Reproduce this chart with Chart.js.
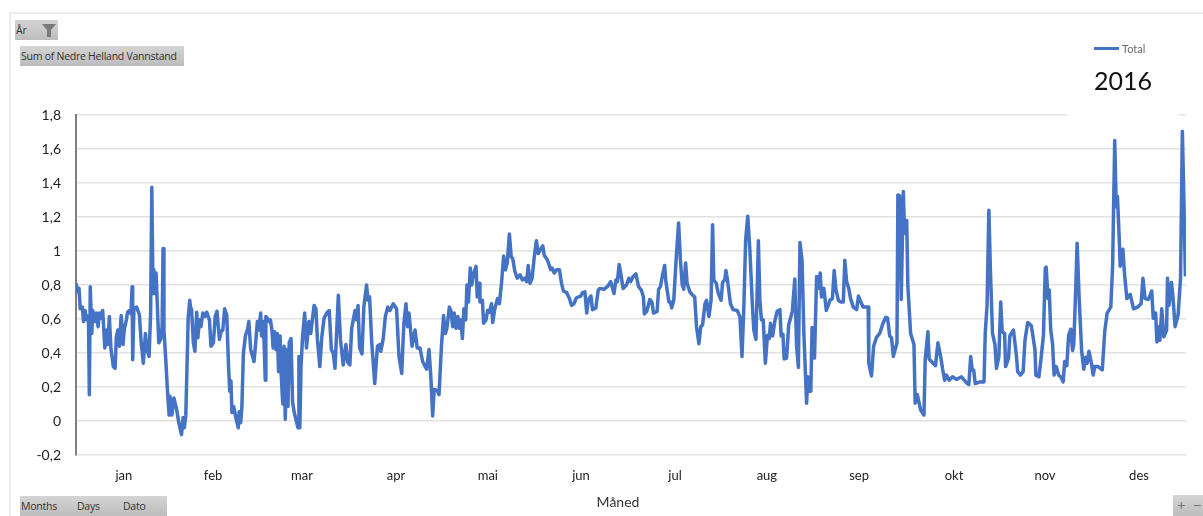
<!DOCTYPE html>
<html lang="no">
<head>
<meta charset="utf-8">
<title>Nedre Helland Vannstand 2016</title>
<script src="https://cdn.jsdelivr.net/npm/chart.js@4"></script>
<style>
    html, body { margin: 0; padding: 0; background: #fff; overflow: hidden; }
    #wrap { position: relative; width: 1203px; height: 516px; overflow: hidden; }
    #chart { position: absolute; left: 0; top: 0; }
    .frame-top { position: absolute; left: 10px; top: 12px; width: 1193px; height: 2px; background: #ececec; }
    .frame-left { position: absolute; left: 9px; top: 12px; width: 2px; height: 504px; background: #ececec; }
    .btn {
        position: absolute; background: linear-gradient(#d4d4d4, #bdbdbd); color: #333;
        font: 10.5px "Open Sans", sans-serif; letter-spacing: -0.25px; line-height: 20px; white-space: nowrap; box-sizing: border-box;
    }
    .legend { position: absolute; left: 1094px; top: 41px; height: 14px; }
    .legend i { position: absolute; left: 0; top: 6px; width: 25px; height: 3px; background: #4472c4; }
    .legend span { position: absolute; left: 28px; top: 0; font: 11px Lato, sans-serif; color: #6a6a6a; line-height: 15px; }
    .year {
        position: absolute; left: 1067px; top: 62px; width: 112px; height: 56px; background: #fff;
        font: 25px Lato, sans-serif; color: #111; text-align: center; line-height: 36px;
    }
    .axis-title { position: absolute; left: 578px; top: 492px; width: 80px; text-align: center; font: 14px Lato, sans-serif; color: #333; line-height: 20px; }
</style>
</head>
<body>
<div id="wrap">
    <canvas id="chart" width="1203" height="516"></canvas>
    <div class="frame-top"></div>
    <div class="frame-left"></div>

    <div class="btn" style="left:15px;top:20px;width:43px;height:20px;padding-left:1px">År
        <svg width="14" height="13" style="position:absolute;left:27px;top:4px"><polygon points="0,0 14,0 9,6 9,13 5,13 5,6" fill="#7a7a7a"/></svg>
    </div>
    <div class="btn" style="left:20px;top:46px;width:164px;height:20px;padding-left:1px">Sum of Nedre Helland Vannstand</div>
    <div class="btn" style="left:20px;top:496px;width:147px;height:20px;padding-left:1px">Months<span style="position:absolute;left:57px">Days</span><span style="position:absolute;left:103px">Dato</span></div>
    <div class="btn" style="left:1173px;top:495px;width:30px;height:21px;font-size:15px;color:#777;padding-left:4px">+<span style="position:absolute;left:20px">−</span></div>

    <div class="legend"><i></i><span>Total</span></div>
    <div class="year">2016</div>
    <div class="axis-title">Måned</div>
</div>

<script>
// ------------------------------------------
// Data lest av bildet
// ------------------------------------------
const monthLabels = ['jan', 'feb', 'mar', 'apr', 'mai', 'jun', 'jul', 'aug', 'sep', 'okt', 'nov', 'des'];
const monthTicks = [15.8, 45.2, 74.5, 105.5, 135.8, 166.5, 197.5, 227.8, 258.2, 289.5, 319.5, 350.5];
const yTicks = [-0.2, 0, 0.2, 0.4, 0.6, 0.8, 1, 1.2, 1.4, 1.6, 1.8];

const days = [
    0, 0.55, 1, 1.4, 2.1, 2.5, 3, 3.5, 4.1, 4.4, 4.7, 5.2, 5.5, 6.3, 6.7, 7.3, 7.7, 8.2, 8.8, 9.5,
    10, 10.5, 11, 11.5, 12.3, 12.9, 13.3, 13.8, 14.3, 14.9, 15.5, 15.9, 16.6, 17, 17.6, 18.1, 18.5, 18.7, 19.1, 20,
    20.9, 21.5, 22.2, 22.9, 23.4, 24.1, 24.6, 25, 25.4, 25.7, 26, 26.4, 27.3, 27.9, 28.4, 28.7, 29, 29.6, 30.2, 30.7,
    31, 31.6, 32.3, 33.2, 34, 34.8, 35.3, 35.7, 36.2, 36.6, 37, 37.5, 37.8, 38.1, 38.7, 39.2, 39.8, 40.2, 40.7, 41.2,
    41.8, 42.5, 43.1, 44, 44.5, 45.3, 45.9, 46.5, 47.3, 47.8, 48.4, 49, 49.7, 50.3, 50.7, 51.1, 51.4, 52, 52.7, 53.5,
    53.8, 54.3, 54.7, 55.2, 55.9, 56.5, 57, 57.6, 58.7, 59.2, 59.8, 60.3, 60.9, 61.2, 61.8, 62.4, 62.6, 63.7, 64.1, 64.6,
    65, 65.5, 65.9, 66.4, 66.8, 67.3, 67.6, 68, 68.2, 68.6, 69, 69.5, 69.9, 70.3, 70.9, 71.4, 71.9, 72.5, 73.2, 73.5,
    73.8, 74.2, 74.7, 75.4, 76, 76.8, 77.4, 78.5, 79.1, 79.6, 80.4, 81, 81.8, 82.7, 83.5, 84.2, 84.8, 85.4, 86.5, 87.2,
    88.1, 89, 89.6, 90.3, 90.9, 92, 92.5, 93, 93.5, 94.3, 94.9, 95.8, 96.3, 96.8, 97.5, 98.5, 99.4, 100.2, 100.5, 101.3,
    102, 102.8, 103.5, 104.6, 105.7, 106.5, 107.4, 108.1, 108.8, 109.3, 109.8, 110.8, 111.8, 112.5, 113.4, 114.3, 115.6, 116.4, 117, 117.6,
    118.1, 119.1, 119.7, 120.5, 121.2, 121.8, 122.3, 123.1, 123.6, 124.2, 124.7, 125.3, 125.9, 126.4, 126.9, 127.4, 127.9, 128.5, 128.9, 129.4,
    130, 130.5, 131, 131.9, 132.3, 132.9, 133.2, 134, 134.4, 135.2, 135.7, 136.3, 137, 137.4, 138.1, 139, 139.6, 140.3, 141, 141.6,
    142.2, 142.9, 143.5, 144, 144.7, 145.5, 146.4, 147.2, 148, 148.6, 149.1, 149.7, 150.4, 151.1, 151.8, 152.4, 153.2, 153.9, 154.4, 155.5,
    156.5, 157, 157.7, 158.5, 159.4, 160.1, 160.7, 161.8, 162.7, 163.4, 164.2, 165, 166.4, 167, 167.8, 168.4, 168.9, 169.8, 170.3, 171.4,
    172.2, 172.7, 174.1, 175.2, 176.3, 177.4, 178, 178.5, 179.1, 179.5, 180.4, 181.5, 182.3, 182.9, 183.7, 184.6, 185.5, 186.4, 187.1, 187.4,
    188.2, 189.2, 189.9, 190.4, 191.6, 192.1, 192.7, 193.3, 194.1, 194.5, 195.5, 196, 196.4, 197.1, 198, 198.7, 199.3, 199.9, 200.4, 201,
    201.5, 202.4, 203.3, 204, 204.6, 205.4, 206, 206.6, 207.4, 207.9, 208.7, 209.4, 209.9, 210.3, 211.1, 211.8, 212.7, 213.2, 213.9, 214.3,
    214.8, 215.8, 216.7, 218, 218.9, 219.6, 220.2, 220.8, 221.5, 222.2, 223, 223.5, 224.2, 225, 225.5, 226, 226.6, 227.3, 228, 228.6,
    229, 229.7, 230.5, 231.2, 232.1, 232.5, 233.1, 233.5, 234.3, 235, 236.2, 237, 237.6, 238.2, 238.7, 239.4, 240, 240.9, 241.3, 241.8,
    242.3, 242.7, 243.5, 244.2, 244.7, 245.4, 245.8, 246.6, 247.4, 248.6, 249.4, 250, 250.6, 251.4, 252.1, 253, 253.5, 254.1, 254.8, 255.4,
    256.3, 257.4, 258, 259, 259.6, 261.2, 261.4, 262.3, 263, 263.9, 265, 266.1, 267, 267.6, 268.3, 268.9, 269.5, 270.7, 271, 271.6,
    272.1, 272.8, 273.2, 273.9, 274.3, 275.2, 276.3, 276.7, 277.4, 278.5, 279.6, 280, 280.9, 281.3, 282.6, 283.4, 284.2, 285.1, 285.7, 286.4,
    287, 287.9, 289, 290.3, 292, 293.6, 294.4, 295, 295.5, 296, 296.5, 298, 299.4, 299.8, 300.4, 301, 301.5, 302.2, 303, 303.5,
    304.3, 304.9, 305.4, 306.2, 306.5, 307.5, 307.9, 309.1, 310.1, 310.5, 311.4, 312.3, 312.9, 313.8, 315, 316.2, 316.5, 317.5, 318.1, 319,
    319.6, 319.9, 320.5, 320.9, 321.4, 322, 322.5, 323.2, 324, 324.7, 325.5, 326, 326.7, 327.3, 328, 328.6, 329, 329.6, 330.1, 330.8,
    331.6, 332.3, 332.9, 333.4, 334, 334.8, 335.4, 335.9, 337, 338.4, 339.2, 340, 341.2, 341.8, 342.5, 343, 343.4, 344, 344.3, 345.2,
    345.7, 346.5, 347.6, 348.7, 350, 351.2, 351.8, 352.5, 353.6, 354.7, 355.2, 356, 356.4, 357, 357.4, 358, 358.7, 359.6, 359.9, 360.4,
    361.2, 361.7, 362.4, 363.4, 364.2, 364.8, 365.3, 365.8
];

const levels = [
    0.81, 0.76, 0.78, 0.66, 0.67, 0.585, 0.65, 0.595, 0.615, 0.155, 0.79, 0.515, 0.65, 0.585, 0.635, 0.555, 0.635, 0.605, 0.65, 0.43,
    0.535, 0.45, 0.615, 0.43, 0.32, 0.31, 0.495, 0.535, 0.44, 0.62, 0.45, 0.535, 0.595, 0.64, 0.65, 0.63, 0.79, 0.36, 0.66, 0.67,
    0.625, 0.46, 0.34, 0.515, 0.42, 0.38, 0.63, 1.375, 0.75, 0.89, 0.75, 0.87, 0.46, 0.48, 0.555, 1.015, 0.535, 0.36, 0.165, 0.035,
    0.145, 0.035, 0.135, 0.065, -0.02, -0.08, 0.02, -0.04, 0.03, 0.32, 0.61, 0.71, 0.66, 0.66, 0.46, 0.41, 0.64, 0.49, 0.595, 0.555,
    0.635, 0.615, 0.64, 0.595, 0.44, 0.46, 0.615, 0.645, 0.48, 0.525, 0.535, 0.66, 0.625, 0.32, 0.175, 0.235, 0.05, 0.085, 0.02, -0.04,
    0.055, -0.01, 0.085, 0.4, 0.505, 0.535, 0.585, 0.42, 0.35, 0.45, 0.585, 0.535, 0.635, 0.5, 0.585, 0.24, 0.615, 0.585, 0.595, 0.535,
    0.43, 0.525, 0.42, 0.515, 0.29, 0.5, 0.3, 0.155, 0.1, 0.44, 0.01, 0.42, 0.085, 0.46, 0.485, 0.115, 0.055, 0.01, -0.04, 0.38,
    -0.04, 0.32, 0.495, 0.635, 0.43, 0.585, 0.515, 0.68, 0.66, 0.48, 0.32, 0.485, 0.605, 0.635, 0.65, 0.42, 0.4, 0.31, 0.74, 0.48,
    0.33, 0.45, 0.345, 0.33, 0.545, 0.65, 0.595, 0.68, 0.43, 0.395, 0.67, 0.8, 0.71, 0.73, 0.465, 0.22, 0.44, 0.45, 0.41, 0.485,
    0.615, 0.67, 0.65, 0.69, 0.66, 0.38, 0.28, 0.575, 0.69, 0.555, 0.635, 0.44, 0.535, 0.43, 0.43, 0.35, 0.305, 0.42, 0.26, 0.03,
    0.185, 0.18, 0.155, 0.44, 0.62, 0.515, 0.545, 0.67, 0.65, 0.555, 0.635, 0.545, 0.615, 0.545, 0.595, 0.485, 0.66, 0.595, 0.8, 0.7,
    0.9, 0.8, 0.86, 0.91, 0.73, 0.81, 0.7, 0.71, 0.575, 0.595, 0.65, 0.64, 0.69, 0.58, 0.66, 0.72, 0.69, 0.81, 0.97, 0.89,
    0.93, 1.1, 0.965, 0.955, 0.88, 0.84, 0.86, 0.83, 0.84, 0.82, 0.915, 0.81, 0.84, 0.965, 1.06, 0.985, 1.01, 1.03, 0.975, 0.945,
    0.89, 0.9, 0.87, 0.89, 0.89, 0.81, 0.765, 0.755, 0.72, 0.68, 0.69, 0.725, 0.735, 0.755, 0.76, 0.635, 0.71, 0.735, 0.655, 0.665,
    0.77, 0.78, 0.775, 0.79, 0.82, 0.75, 0.83, 0.82, 0.92, 0.88, 0.78, 0.8, 0.84, 0.82, 0.85, 0.865, 0.79, 0.77, 0.73, 0.63,
    0.645, 0.715, 0.7, 0.635, 0.645, 0.775, 0.79, 0.85, 0.915, 0.82, 0.7, 0.7, 0.665, 0.71, 0.985, 1.165, 0.945, 0.8, 0.775, 0.93,
    0.81, 0.76, 0.74, 0.73, 0.555, 0.455, 0.555, 0.565, 0.69, 0.71, 0.615, 0.71, 1.155, 0.83, 0.81, 0.75, 0.71, 0.815, 0.83, 0.885,
    0.83, 0.69, 0.655, 0.65, 0.615, 0.38, 0.665, 1.065, 1.205, 1.005, 0.69, 0.535, 0.48, 1.06, 0.71, 0.595, 0.595, 0.34, 0.505, 0.485,
    0.575, 0.5, 0.595, 0.645, 0.655, 0.5, 0.51, 0.365, 0.37, 0.565, 0.645, 0.835, 0.44, 0.315, 1.05, 0.945, 0.515, 0.105, 0.26, 0.175,
    0.175, 0.55, 0.37, 0.85, 0.78, 0.87, 0.73, 0.78, 0.65, 0.71, 0.72, 0.885, 0.77, 0.71, 0.7, 0.7, 0.945, 0.82, 0.78, 0.72,
    0.67, 0.655, 0.735, 0.69, 0.67, 0.67, 0.34, 0.265, 0.44, 0.49, 0.515, 0.575, 0.61, 0.605, 0.5, 0.49, 0.38, 0.46, 1.33, 1.325,
    0.715, 1.35, 1.105, 1.18, 0.79, 0.515, 0.45, 0.105, 0.155, 0.065, 0.035, 0.36, 0.525, 0.365, 0.34, 0.325, 0.46, 0.38, 0.31, 0.24,
    0.27, 0.24, 0.26, 0.245, 0.26, 0.225, 0.215, 0.38, 0.3, 0.3, 0.22, 0.23, 0.23, 0.515, 0.68, 1.24, 0.89, 0.515, 0.45, 0.31,
    0.38, 0.7, 0.525, 0.515, 0.32, 0.37, 0.5, 0.535, 0.38, 0.29, 0.27, 0.29, 0.475, 0.58, 0.56, 0.42, 0.27, 0.26, 0.35, 0.505,
    0.9, 0.905, 0.72, 0.77, 0.535, 0.455, 0.27, 0.32, 0.27, 0.26, 0.23, 0.35, 0.325, 0.505, 0.54, 0.415, 0.45, 0.76, 1.045, 0.71,
    0.41, 0.305, 0.375, 0.34, 0.41, 0.34, 0.27, 0.32, 0.32, 0.3, 0.525, 0.635, 0.67, 0.91, 1.65, 1.26, 1.32, 1.065, 0.91, 1.01,
    0.87, 0.72, 0.745, 0.66, 0.67, 0.69, 0.84, 0.72, 0.715, 0.765, 0.605, 0.635, 0.465, 0.555, 0.475, 0.66, 0.495, 0.535, 0.84, 0.68,
    0.815, 0.73, 0.555, 0.625, 0.84, 1.705, 1.3, 0.85
];

// ------------------------------------------
// Graf
// ------------------------------------------
const formatTick = v => String(Math.round(v * 10) / 10).replace('.', ',');

new Chart(document.getElementById('chart').getContext('2d'), {
    type: 'line',
    data: {
        datasets: [{
            label: 'Total',
            data: days.map((d, i) => ({ x: d, y: levels[i] })),
            borderColor: '#4472c4',
            borderWidth: 3.5,
            pointRadius: 0,
            tension: 0,
            borderJoinStyle: 'round'
        }]
    },
    options: {
        responsive: false,
        animation: false,
        layout: { padding: { top: 115, right: 17, left: 0, bottom: 0 } },
        plugins: { legend: { display: false }, tooltip: { enabled: false } },
        scales: {
            x: {
                type: 'linear',
                min: 0,
                max: 366,
                afterBuildTicks: axis => { axis.ticks = monthTicks.map(v => ({ value: v })); },
                afterFit: axis => { axis.height = 61; },
                grid: { display: false },
                border: { display: false },
                ticks: {
                    autoSkip: false,
                    maxRotation: 0,
                    padding: 5,
                    color: '#222',
                    font: { family: 'Lato', size: 13 },
                    callback: (v, i) => monthLabels[i]
                }
            },
            y: {
                min: -0.2,
                max: 1.8,
                afterBuildTicks: axis => { axis.ticks = yTicks.map(v => ({ value: v })); },
                afterFit: axis => { axis.width = 76; },
                grid: { color: '#e2e2e2', lineWidth: 1.5, drawTicks: false },
                border: { color: '#7f7f7f', width: 2 },
                ticks: {
                    padding: 15,
                    color: '#222',
                    font: { family: 'Lato', size: 14 },
                    callback: v => formatTick(v)
                }
            }
        }
    }
});
</script>
</body>
</html>
